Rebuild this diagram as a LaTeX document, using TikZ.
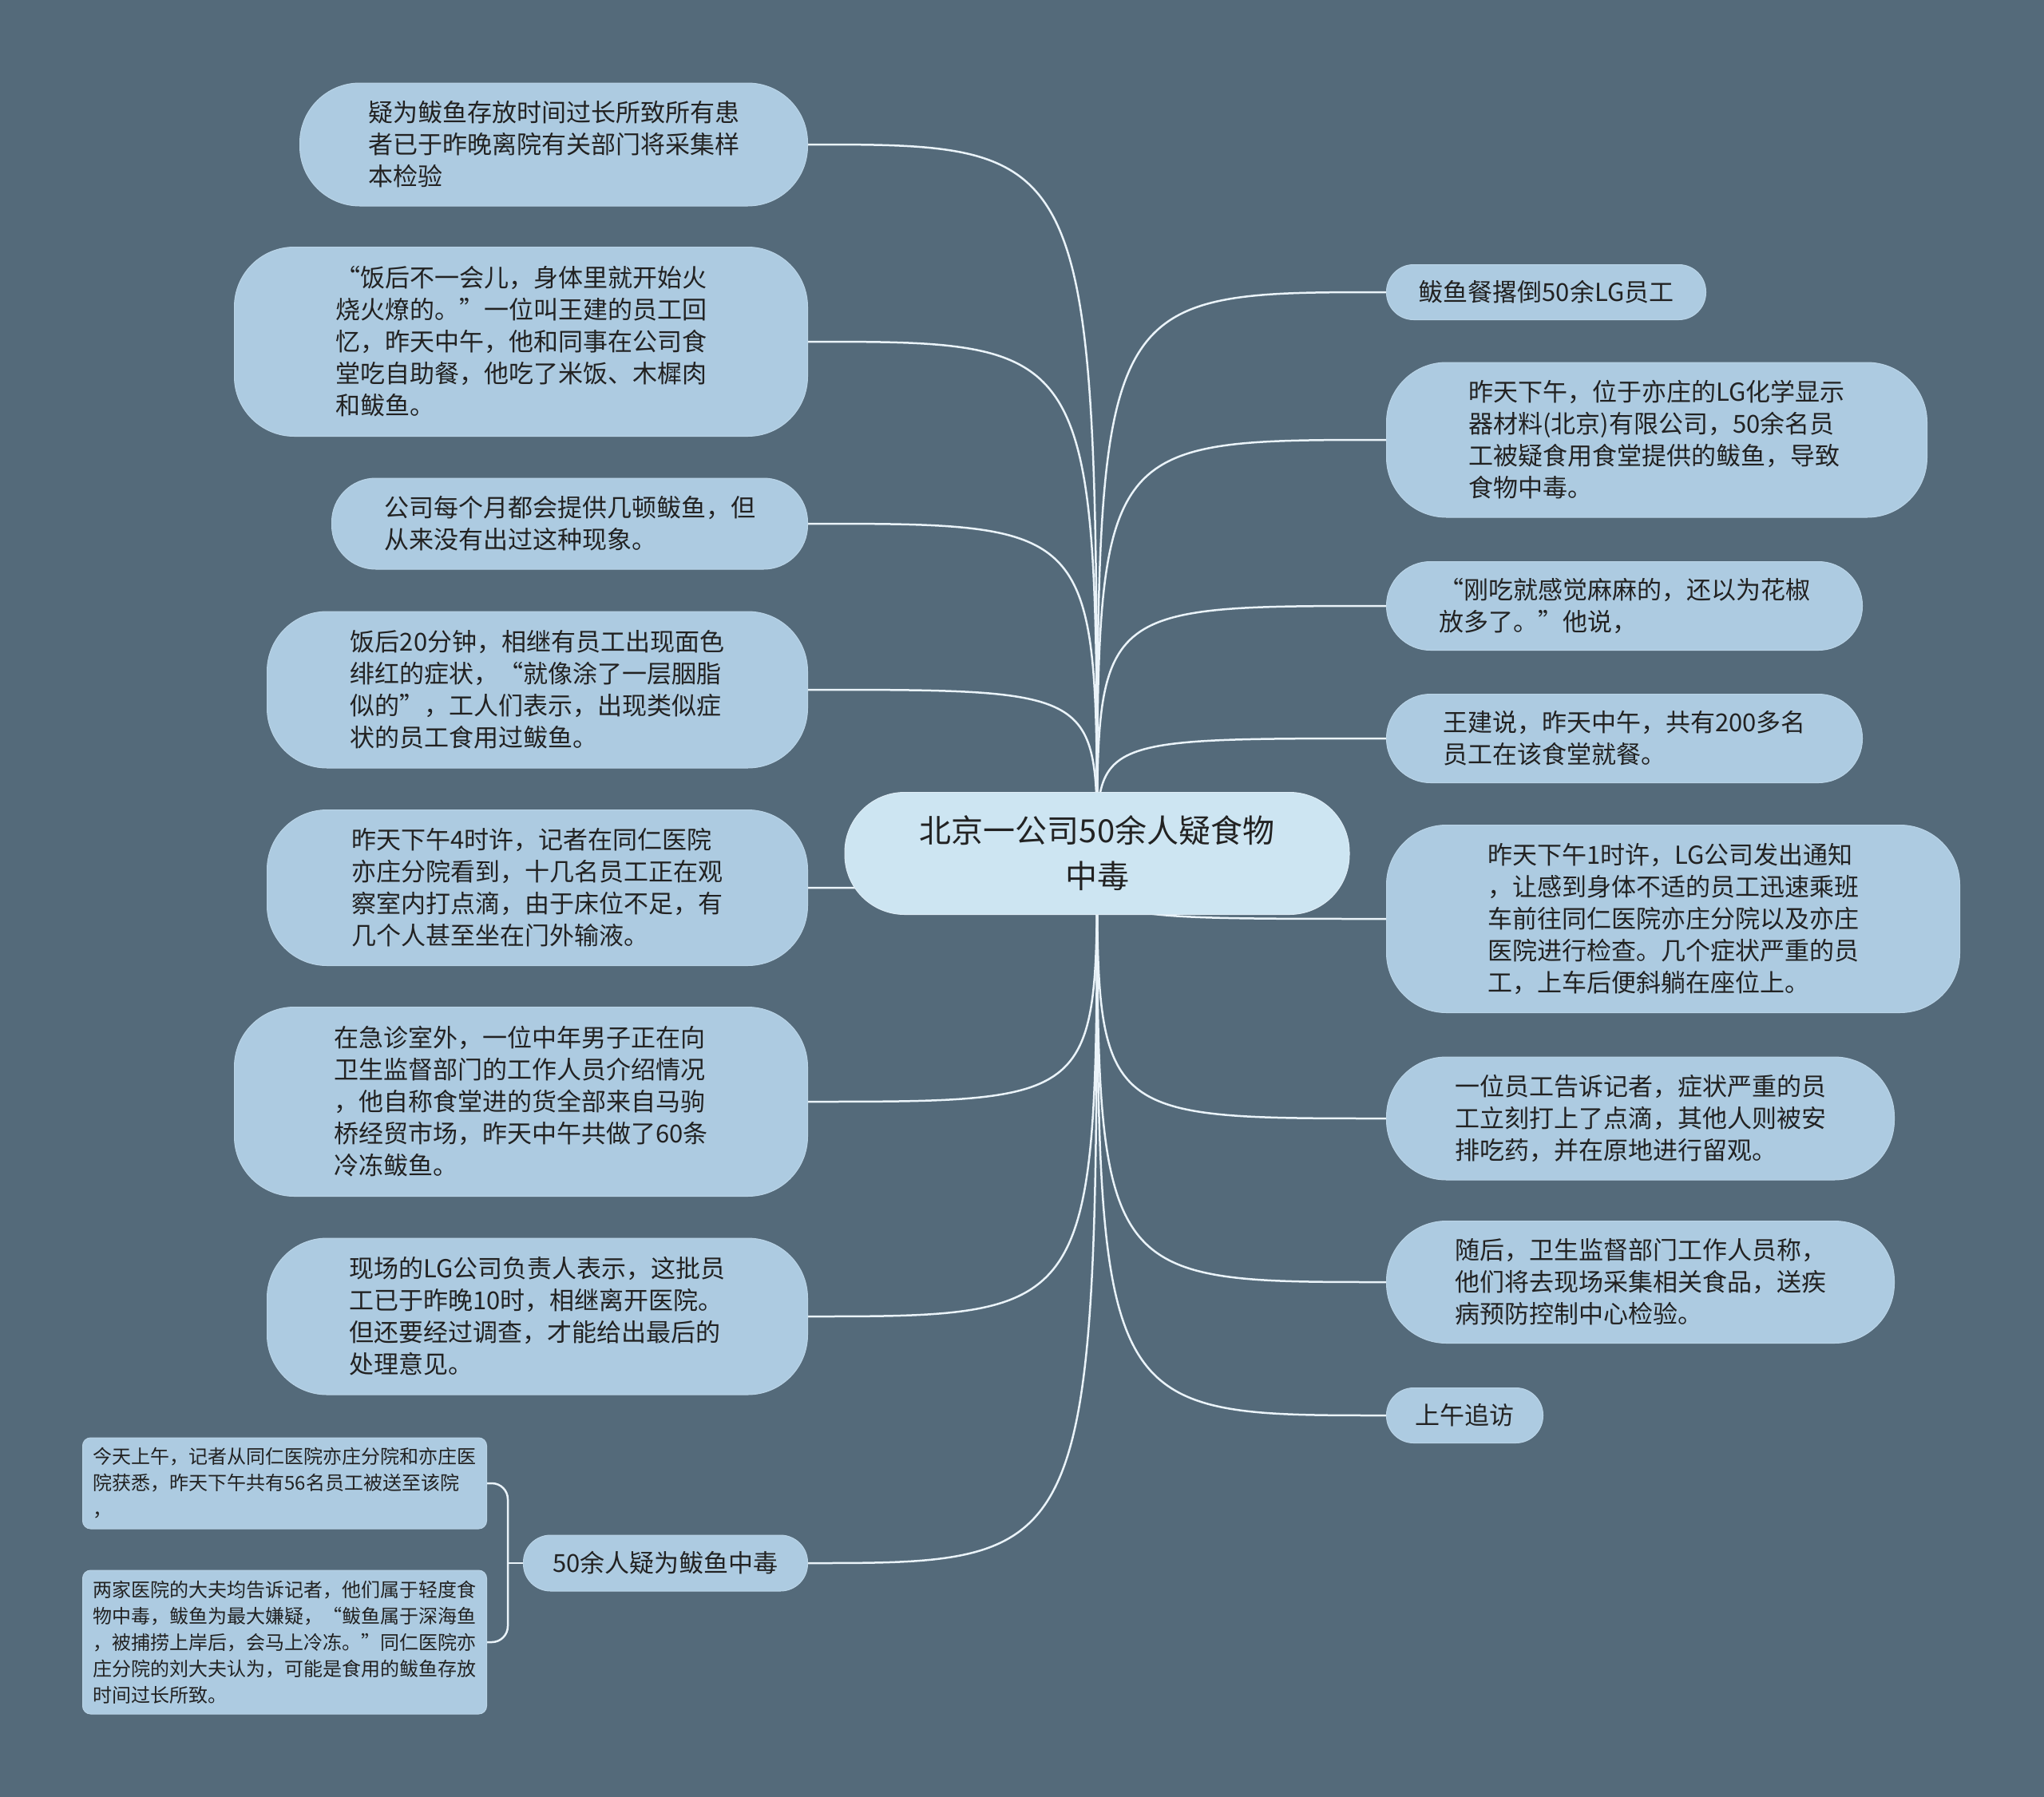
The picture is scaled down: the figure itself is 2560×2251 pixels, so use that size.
\documentclass[tikz,border=0pt]{standalone}
\usepackage{fontspec}
\setmainfont{Noto Sans CJK SC}
\usepackage{tikz}
\usetikzlibrary{positioning, backgrounds}
\definecolor{slate}{HTML}{546A7A}
\definecolor{leaffill}{HTML}{ADCBE1}
\definecolor{leafrim}{HTML}{BAD4E7}
\definecolor{rootfill}{HTML}{CDE5F2}
\definecolor{rootrim}{HTML}{DCEBF5}
\definecolor{linkcol}{HTML}{EAF3F9}
\definecolor{ink}{HTML}{222222}

\begin{document}
\begin{tikzpicture}[x=1pt, y=-1pt,
        leaf/.style={draw=leafrim, line width=1pt, fill=leaffill, text=ink, align=left, inner sep=0pt, rounded corners=75pt, font=\fontsize{31pt}{40pt}\selectfont},
        twoline/.style={leaf, rounded corners=55pt},
        pill/.style={leaf, rounded corners=34pt, minimum height=69pt},
        note/.style={draw=leafrim, line width=1pt, fill=leaffill, text=ink, align=left, inner sep=0pt, rounded corners=10pt, font=\fontsize{24pt}{33pt}\selectfont},
        root/.style={draw=rootrim, line width=1pt, fill=rootfill, text=ink, align=center, inner sep=0pt, rounded corners=75pt, font=\fontsize{40pt}{57pt}\selectfont},
        branch/.style={draw=linkcol, line width=2.5pt}
    ]
        \useasboundingbox (0,0) rectangle (2560,2251);

        \node[root, minimum width=632pt, minimum height=153pt] (root) at (1374,1069) {北京一公司50余人疑食物\\中毒};

        
        \node[leaf, anchor=east, minimum width=636pt, minimum height=154pt] (n1) at (1012,181) {
            疑为鲅鱼存放时间过长所致所有患\\
            者已于昨晚离院有关部门将采集样\\
            本检验};
        \node[leaf, anchor=east, minimum width=718pt, minimum height=237pt] (n2) at (1012,428) {
            “饭后不一会儿，身体里就开始火\\
            烧火燎的。”一位叫王建的员工回\\
            忆，昨天中午，他和同事在公司食\\
            堂吃自助餐，他吃了米饭、木樨肉\\
            和鲅鱼。};
        \node[twoline, anchor=east, minimum width=596pt, minimum height=114pt] (n3) at (1012,656) {
            公司每个月都会提供几顿鲅鱼，但\\
            从来没有出过这种现象。};
        \node[leaf, anchor=east, minimum width=677pt, minimum height=196pt] (n4) at (1012,864) {
            饭后20分钟，相继有员工出现面色\\
            绯红的症状，“就像涂了一层胭脂\\
            似的”，工人们表示，出现类似症\\
            状的员工食用过鲅鱼。};
        \node[leaf, anchor=east, minimum width=677pt, minimum height=195pt] (n5) at (1012,1112) {
            昨天下午4时许，记者在同仁医院\\
            亦庄分院看到，十几名员工正在观\\
            察室内打点滴，由于床位不足，有\\
            几个人甚至坐在门外输液。};
        \node[leaf, anchor=east, minimum width=718pt, minimum height=237pt] (n6) at (1012,1380) {
            在急诊室外，一位中年男子正在向\\
            卫生监督部门的工作人员介绍情况\\
            ，他自称食堂进的货全部来自马驹\\
            桥经贸市场，昨天中午共做了60条\\
            冷冻鲅鱼。};
        \node[leaf, anchor=east, minimum width=677pt, minimum height=196pt] (n7) at (1012,1649) {
            现场的LG公司负责人表示，这批员\\
            工已于昨晚10时，相继离开医院。\\
            但还要经过调查，才能给出最后的\\
            处理意见。};
        \node[pill, anchor=east, minimum width=356pt, minimum height=70pt] (sub) at (1012,1958) {50余人疑为鲅鱼中毒};

        \node[note, anchor=west, minimum width=506pt, minimum height=114pt] (s1) at (103,1858) {
            今天上午，记者从同仁医院亦庄分院和亦庄医\\
            院获悉，昨天下午共有56名员工被送至该院\\
            ，};
        \node[note, anchor=west, minimum width=506pt, minimum height=180pt] (s2) at (103,2057) {
            两家医院的大夫均告诉记者，他们属于轻度食\\
            物中毒，鲅鱼为最大嫌疑，“鲅鱼属于深海鱼\\
            ，被捕捞上岸后，会马上冷冻。”同仁医院亦\\
            庄分院的刘大夫认为，可能是食用的鲅鱼存放\\
            时间过长所致。};

        
        \node[pill, anchor=west, minimum width=400pt] (r1) at (1736,366) {鲅鱼餐撂倒50余LG员工};
        \node[leaf, anchor=west, minimum width=677pt, minimum height=194pt] (r2) at (1736,551) {
            昨天下午，位于亦庄的LG化学显示\\
            器材料(北京)有限公司，50余名员\\
            工被疑食用食堂提供的鲅鱼，导致\\
            食物中毒。};
        \node[twoline, anchor=west, minimum width=596pt, minimum height=111pt] (r3) at (1736,759) {
            “刚吃就感觉麻麻的，还以为花椒\\
            放多了。”他说，};
        \node[twoline, anchor=west, minimum width=596pt, minimum height=111pt] (r4) at (1736,925) {
            王建说，昨天中午，共有200多名\\
            员工在该食堂就餐。};
        \node[leaf, anchor=west, minimum width=718pt, minimum height=235pt] (r5) at (1736,1151) {
            昨天下午1时许，LG公司发出通知\\
            ，让感到身体不适的员工迅速乘班\\
            车前往同仁医院亦庄分院以及亦庄\\
            医院进行检查。几个症状严重的员\\
            工，上车后便斜躺在座位上。};
        \node[leaf, anchor=west, minimum width=636pt, minimum height=154pt] (r6) at (1736,1401) {
            一位员工告诉记者，症状严重的员\\
            工立刻打上了点滴，其他人则被安\\
            排吃药，并在原地进行留观。};
        \node[leaf, anchor=west, minimum width=636pt, minimum height=153pt] (r7) at (1736,1606) {
            随后，卫生监督部门工作人员称，\\
            他们将去现场采集相关食品，送疾\\
            病预防控制中心检验。};
        \node[pill, anchor=west, minimum width=196pt] (r8) at (1736,1773) {上午追访};

        \coordinate (fork) at (636,1958);

        \begin{scope}[on background layer]
            \fill[slate] (0,0) rectangle (2560,2251);
            \foreach \n in {n1,n2,n3,n4,n5,n6,n7,sub}
                \draw[branch] (root.center) .. controls (root.center |- \n.east) .. (\n.east);
            \foreach \n in {r1,r2,r3,r4,r5,r6,r7,r8}
                \draw[branch] (root.center) .. controls (root.center |- \n.west) .. (\n.west);
            \draw[branch] (sub.west) -- (fork);
            \foreach \s in {s1,s2}
                \draw[branch, rounded corners=20pt] (fork) |- (\s.east);
        \end{scope}

    \end{tikzpicture}
\end{document}
